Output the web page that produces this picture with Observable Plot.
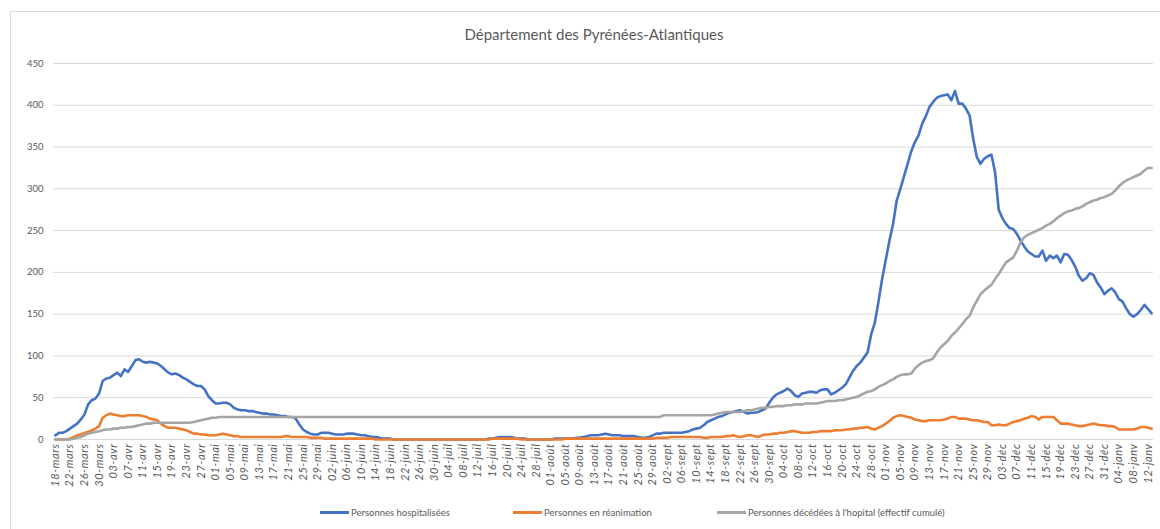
<!DOCTYPE html>
<html><head><meta charset="utf-8">
<script src="https://cdn.jsdelivr.net/npm/d3@7"></script>
<script src="https://cdn.jsdelivr.net/npm/@observablehq/plot@0.6"></script>
<style>
body{margin:0;background:#fff;font-family:Lato,"Open Sans",sans-serif;}
#wrap{position:relative;width:1160px;height:529px;overflow:hidden;background:#fff;}
#frame{position:absolute;left:10px;top:11px;width:1300px;height:700px;border:1px solid #d9d9d9;}
#title{position:absolute;top:25px;left:594px;transform:translateX(-50%);white-space:nowrap;font-size:15px;color:#595959;}
#chart{position:absolute;left:0;top:0;}
.leg{position:absolute;top:507px;font-size:9.5px;color:#595959;display:flex;align-items:center;white-space:nowrap;}
.sw{display:inline-block;width:29px;height:3px;margin-right:2px;}
</style></head>
<body><div id="wrap"><div id="frame"></div><div id="title">Département des Pyrénées-Atlantiques</div><div id="chart"></div><div id="legend"></div></div>
<script>
const chartTitle = "Département des Pyrénées-Atlantiques";
const seriesNames = ["Personnes hospitalisées", "Personnes en réanimation", "Personnes décédées à l'hopital (effectif cumulé)"];
const seriesColors = ["#4472C4", "#ED7D31", "#A5A5A5"];
const yTicks = [0, 50, 100, 150, 200, 250, 300, 350, 400, 450];
// one tick label every 4 days, starting 18 March 2020 (day index 0)
const tickLabels = ["18-mars","22-mars","26-mars","30-mars","03-avr","07-avr","11-avr","15-avr","19-avr","23-avr","27-avr",
"01-mai","05-mai","09-mai","13-mai","17-mai","21-mai","25-mai","29-mai","02-juin","06-juin","10-juin","14-juin","18-juin",
"22-juin","26-juin","30-juin","04-juil","08-juil","12-juil","16-juil","20-juil","24-juil","28-juil","01-août","05-août",
"09-août","13-août","17-août","21-août","25-août","29-août","02-sept","06-sept","10-sept","14-sept","18-sept","22-sept",
"26-sept","30-sept","04-oct","08-oct","12-oct","16-oct","20-oct","24-oct","28-oct","01-nov","05-nov","09-nov","13-nov",
"17-nov","21-nov","25-nov","29-nov","03-déc","07-déc","11-déc","15-déc","19-déc","23-déc","27-déc","31-déc","04-janv",
"08-janv","12-janv"];
// daily values, 18 March 2020 -> 13 January 2021
const hospitalises = [
5,8,8,10,13,16,19,24,30,42,
47,49,55,70,73,74,77,80,76,84,
81,88,95,96,93,92,93,92,91,88,
84,80,78,79,77,74,72,69,66,64,
64,60,52,47,43,43,44,44,42,38,
36,35,35,34,34,33,32,31,31,30,
30,29,28,28,27,27,25,18,12,9,
7,6,6,8,8,8,7,6,6,6,
7,7,7,6,5,5,4,3,3,2,
1,1,1,0,0,0,0,0,0,0,
0,0,0,0,0,0,0,0,0,0,
0,0,0,0,0,0,0,0,0,1,
1,2,3,3,3,3,2,1,1,1,
0,0,0,0,0,0,0,1,1,1,
1,1,1,2,2,3,4,5,5,5,
6,7,6,5,5,5,4,4,4,4,
3,2,2,3,5,7,7,8,8,8,
8,8,8,9,10,12,13,14,17,21,
23,25,27,28,30,32,33,34,35,33,
31,32,32,33,35,37,44,50,54,56,
58,61,58,53,51,55,56,57,57,56,
59,60,60,54,56,59,62,66,74,82,
88,92,98,104,126,140,165,192,215,238,
258,286,300,315,330,345,356,364,378,387,
398,404,409,411,412,413,406,417,402,402,
396,388,360,338,330,336,339,341,320,275,
265,258,253,252,246,238,231,225,222,219,
219,226,214,220,217,220,212,222,221,215,
207,196,190,193,199,197,188,182,174,178,
181,176,168,165,157,150,147,150,155,161,
156,151];
const reanimation = [
0,0,0,0,1,3,5,6,8,9,
11,13,16,26,29,31,30,29,28,28,
29,29,29,29,28,27,25,24,23,19,
16,14,14,14,13,12,11,9,7,7,
6,6,5,5,5,6,7,6,5,4,
4,3,3,3,3,3,3,3,3,3,
3,3,3,4,4,3,3,3,3,3,
2,2,2,2,1,1,1,1,1,1,
1,1,1,1,1,1,1,1,0,0,
0,0,0,0,0,0,0,0,0,0,
0,0,0,0,0,0,0,0,0,0,
0,0,0,0,0,0,0,0,0,0,
1,1,1,1,1,1,1,1,0,0,
0,0,0,0,0,0,0,0,0,0,
1,1,1,1,1,1,1,1,1,1,
1,1,1,1,1,1,1,1,1,1,
1,1,1,1,1,2,2,2,2,3,
3,3,3,3,3,3,3,3,2,2,
3,3,3,3,4,4,5,4,3,4,
5,5,4,3,5,6,6,7,7,8,
8,9,10,10,9,8,8,8,9,9,
10,10,10,10,11,11,11,12,12,13,
13,14,14,15,13,12,14,16,19,22,
26,28,29,28,27,26,24,23,22,22,
23,23,23,23,24,25,27,27,25,25,
25,24,23,23,22,21,21,17,17,18,
17,17,19,21,22,23,25,26,28,27,
24,27,27,27,27,23,19,19,19,18,
17,16,16,17,18,19,18,17,17,16,
16,15,12,12,12,12,12,13,15,15,
14,13];
const deces = [
0,0,0,0,0,1,2,3,5,7,
8,9,10,11,12,12,13,13,14,14,
15,15,16,17,18,19,19,20,20,20,
20,20,20,20,20,20,20,20,21,22,
23,24,25,26,26,27,27,27,27,27,
27,27,27,27,27,27,27,27,27,27,
27,27,27,27,27,27,27,27,27,27,
27,27,27,27,27,27,27,27,27,27,
27,27,27,27,27,27,27,27,27,27,
27,27,27,27,27,27,27,27,27,27,
27,27,27,27,27,27,27,27,27,27,
27,27,27,27,27,27,27,27,27,27,
27,27,27,27,27,27,27,27,27,27,
27,27,27,27,27,27,27,27,27,27,
27,27,27,27,27,27,27,27,27,27,
27,27,27,27,27,27,27,27,27,27,
27,27,27,27,27,27,27,29,29,29,
29,29,29,29,29,29,29,29,29,29,
29,30,31,32,33,33,33,33,33,34,
35,35,36,37,38,38,39,39,40,40,
40,41,41,42,42,42,43,43,43,43,
44,45,46,46,46,47,47,48,49,50,
51,53,55,57,58,60,63,65,67,70,
72,75,77,78,78,79,85,89,92,94,
95,97,104,110,114,118,124,128,133,138,
144,148,158,166,174,178,182,185,192,198,
205,212,215,218,226,236,242,245,247,249,
251,253,256,258,261,265,268,271,273,274,
276,277,279,282,284,286,287,289,290,292,
294,298,303,307,310,312,314,316,318,322,
325,325];

const seriesValues = [hospitalises, reanimation, deces];
const rows = [];
seriesValues.forEach((vals, s) => vals.forEach((v, i) => rows.push({day: i, value: v, serie: seriesNames[s]})));
const tickDays = tickLabels.map((_, i) => i * 4);
const labelOf = new Map(tickDays.map((d, i) => [d, tickLabels[i]]));
const nDays = hospitalises.length;

const chart = Plot.plot({
  width: 1160,
  height: 500,
  marginLeft: 53,
  marginRight: 7,
  marginTop: 63,
  marginBottom: 61,
  style: {fontFamily: "Lato, 'Open Sans', sans-serif", fontSize: "9.5px", color: "#595959", background: "transparent", overflow: "visible"},
  x: {domain: [-0.5, nDays - 0.5], ticks: tickDays, tickFormat: d => labelOf.get(d), tickRotate: -90, tickSize: 0, tickPadding: 4, label: null},
  y: {domain: [0, 450], ticks: yTicks, tickSize: 0, tickPadding: 10, label: null},
  color: {domain: seriesNames, range: seriesColors},
  marks: [
    Plot.ruleY(yTicks, {stroke: "#d9d9d9", strokeWidth: 1}),
    Plot.line(rows, {x: "day", y: "value", z: "serie", stroke: "serie", strokeWidth: 2.6, strokeLinejoin: "round", strokeLinecap: "round"})
  ]
});
d3.select(chart).selectAll("g[aria-label^='x-axis'] text")
  .style("font-style", "italic")
  .style("font-size", "11px")
  .style("letter-spacing", "0.6px");
document.getElementById("chart").appendChild(chart);

const legendLeft = [320, 513, 717];
const legend = document.getElementById("legend");
seriesNames.forEach((name, i) => {
  const item = document.createElement("div");
  item.className = "leg";
  item.style.left = legendLeft[i] + "px";
  item.innerHTML = `<span class="sw" style="background:${seriesColors[i]}"></span><span>${name}</span>`;
  legend.appendChild(item);
});
</script>
</body></html>
